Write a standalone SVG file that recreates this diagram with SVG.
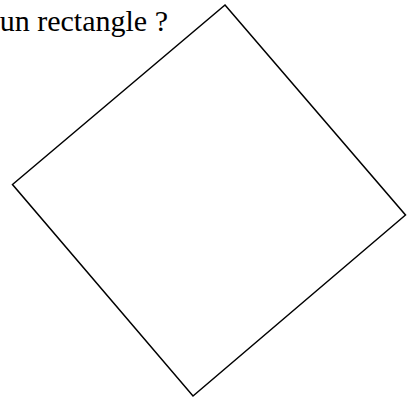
<svg xmlns="http://www.w3.org/2000/svg" width="414" height="400" viewBox="0 0 414 400">
<style>
.t{font-family:"Liberation Serif","Times New Roman",serif;font-size:30px;fill:#000}
.s{fill:none;stroke:#000;stroke-width:1.5;stroke-linejoin:miter}
</style>
<rect width="414" height="400" fill="#fff"/>
<text class="t" x="168" y="31" text-anchor="end">un rectangle ?</text>
<polygon class="s" points="225,5 405.5,215 193,396 12.5,184.5"/>
</svg>
